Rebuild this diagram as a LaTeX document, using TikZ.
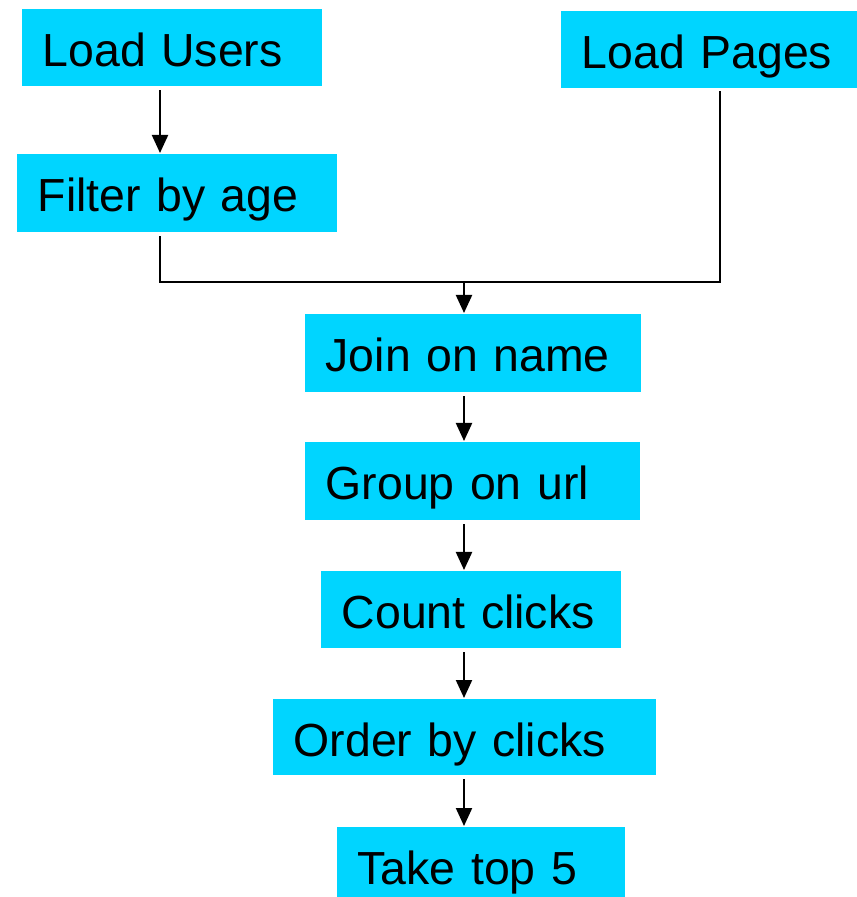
\documentclass[tikz,border=0pt]{standalone}
\usepackage{fontspec}
\setmainfont{Liberation Sans}
\usepackage{tikz}
\usetikzlibrary{arrows.meta}
\definecolor{boxcyan}{HTML}{00D5FF}
\tikzset{
	stage/.style={fill=boxcyan, anchor=north west, inner xsep=0.21cm, inner ysep=0pt, align=left, text height=0.58cm, font=\fontsize{13.2pt}{15pt}\selectfont},
	flow/.style={line width=0.6pt, -{Triangle[width=0.16cm, length=0.18cm]}},
	link/.style={line width=0.6pt},
}
\begin{document}
\begin{tikzpicture}[x=0.01cm, y=0.01cm]
		\useasboundingbox (0, 0) rectangle (856, -897);

		\node[stage, text width=2.58cm, text depth=0.19cm] at (21, -8) (users) {Load Users};
		\node[stage, text width=2.54cm, text depth=0.19cm] at (560, -10) (pages) {Load Pages};
		\node[stage, text width=2.78cm, text depth=0.20cm] at (16, -153) (filter) {Filter by age};
		\node[stage, text width=2.94cm, text depth=0.20cm] at (304, -313) (join) {Join on name};
		\node[stage, text width=2.93cm, text depth=0.20cm] at (304, -441) (group) {Group on url};
		\node[stage, text width=2.58cm, text depth=0.19cm] at (320, -570) (count) {Count clicks};
		\node[stage, text width=3.41cm, text depth=0.18cm] at (272, -698) (order) {Order by clicks};
		\node[stage, text width=2.46cm, text depth=0.13cm] at (336, -826) (take) {Take top 5};

		\coordinate (lx) at (160, 0);
		\coordinate (px) at (720, 0);
		\coordinate (mx) at (464, 0);
		\coordinate (merge) at (464, -282);

		\draw[flow, shorten <=0.04cm] (users.south -| lx) -- (filter.north -| lx);
		\draw[link, shorten <=0.04cm, shorten >=0.03cm] (filter.south -| lx) |- (merge) -| (pages.south -| px);
		\draw[flow] (merge) -- (join.north -| mx);
		\draw[flow, shorten <=0.04cm] (join.south -| mx) -- (group.north -| mx);
		\draw[flow, shorten <=0.04cm] (group.south -| mx) -- (count.north -| mx);
		\draw[flow, shorten <=0.04cm] (count.south -| mx) -- (order.north -| mx);
		\draw[flow, shorten <=0.04cm] (order.south -| mx) -- (take.north -| mx);
	\end{tikzpicture}
\end{document}
